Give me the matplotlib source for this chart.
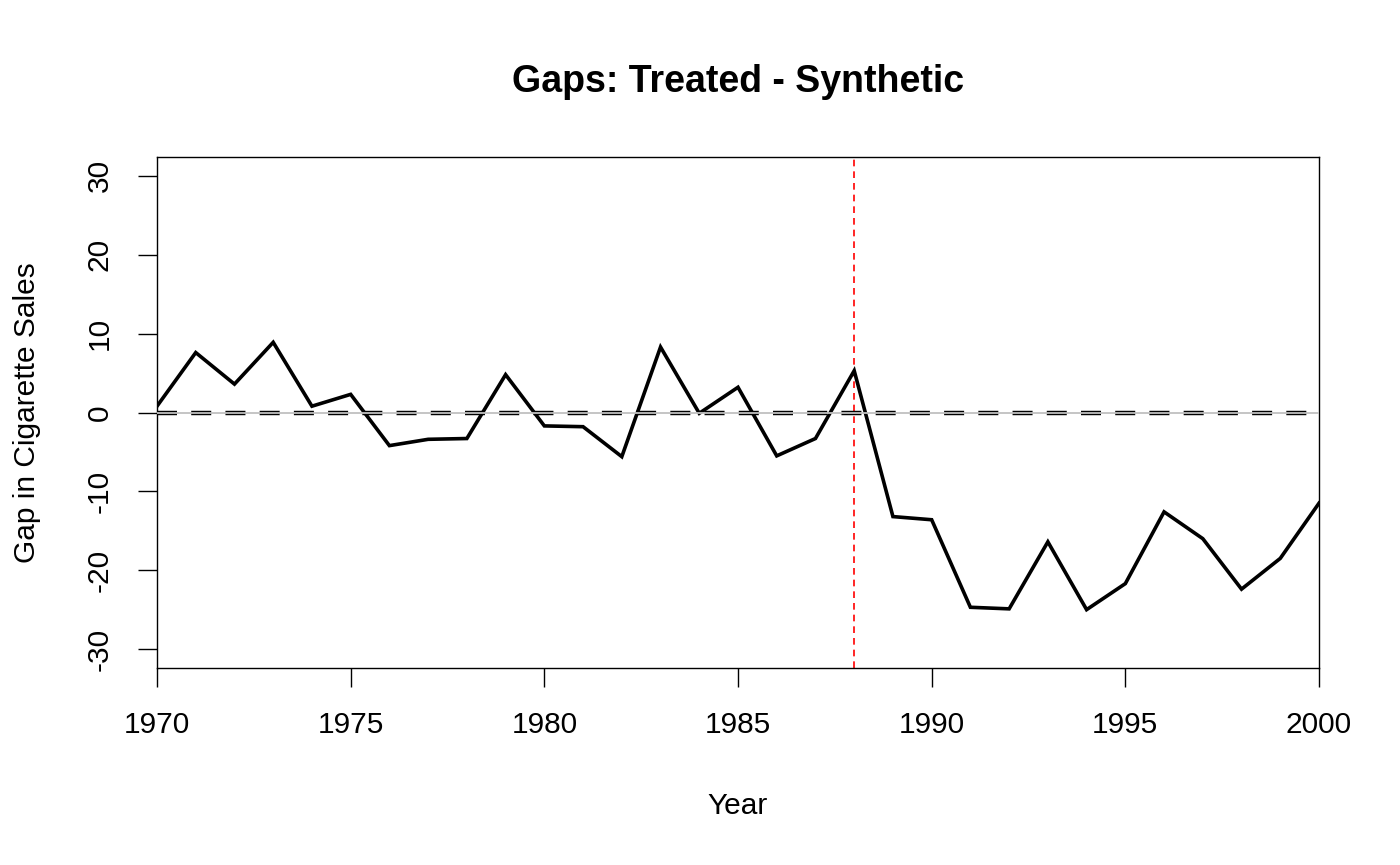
import numpy as np
import matplotlib
matplotlib.use("Agg")
import matplotlib.pyplot as plt

plt.rcParams["font.family"] = ["Liberation Sans", "DejaVu Sans"]

# ---------------------------------------------------------
# DATA
# ---------------------------------------------------------
years = list(range(1970, 2001))
gap = [0.8, 7.6, 3.6, 8.9, 0.8, 2.3, -4.2, -3.4, -3.3, 4.8,
       -1.7, -1.8, -5.6, 8.3, -0.1, 3.2, -5.5, -3.3, 5.3, -13.2,
       -13.6, -24.7, -24.9, -16.4, -25.0, -21.7, -12.6, -16.0, -22.4, -18.5,
       -11.5]
treat_year = 1988
x_ticks = [1970, 1975, 1980, 1985, 1990, 1995, 2000]
y_ticks = [-30, -20, -10, 0, 10, 20, 30]

# ---------------------------------------------------------
# FIGURE
# ---------------------------------------------------------
W, H = 1400, 865
fig = plt.figure(figsize=(W / 100, H / 100), dpi=100)
ax = fig.add_axes([157 / W, 1 - 668 / H, (1319 - 157) / W, (668 - 157) / H])

ax.plot(years, gap, color="black", lw=2.6, solid_joinstyle="miter", zorder=4)
# zero reference: thick black dashes with a thin grey line on top
ax.axhline(0, color="black", lw=3.2, ls=(0, (4.5, 3.2)), zorder=3)
ax.axhline(0, color="#c0c0c0", lw=1.3, zorder=5)
ax.axvline(treat_year, color="red", lw=1.2, ls=(0, (4, 3)), zorder=2)

ax.set_xlim(1970, 2000)
ax.set_ylim(-32.4, 32.4)
ax.set_xticks(x_ticks)
ax.set_yticks(y_ticks)
ax.set_yticklabels([str(v) for v in y_ticks], rotation=90, va="center")

ax.tick_params(axis="both", direction="out", length=14, width=1.0,
               labelsize=21.5, pad=17)
for s in ax.spines.values():
    s.set_linewidth(1.0)

ax.set_title("Gaps: Treated - Synthetic", fontsize=27, fontweight="bold", pad=47)
ax.set_xlabel("Year", fontsize=21.5, labelpad=38)
ax.set_ylabel("Gap in Cigarette Sales", fontsize=21.5, labelpad=32)

fig.savefig("out.png", dpi=100)
